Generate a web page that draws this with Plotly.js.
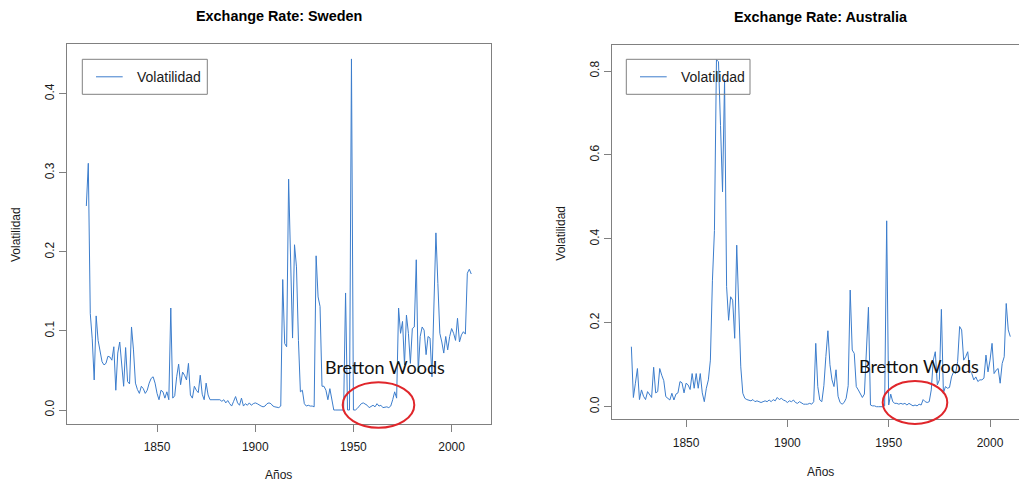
<!DOCTYPE html>
<html>
<head>
<meta charset="utf-8">
<script src="https://cdn.plot.ly/plotly-3.0.1.min.js"></script>
<style>
  html, body { margin: 0; padding: 0; background: #ffffff; }
  #chart { width: 1019px; height: 483px; }
</style>
</head>
<body>
<div id="chart"></div>
<script>
// Annual exchange-rate volatility, one value per year from the start year on.
const swedenStart = 1814;
const swedenVol = [
  0.258, 0.312, 0.122, 0.090, 0.038, 0.119, 0.088, 0.076, 0.061, 0.057,
  0.059, 0.068, 0.067, 0.063, 0.080, 0.025, 0.072, 0.086, 0.055, 0.030,
  0.079, 0.036, 0.033, 0.105, 0.076, 0.034, 0.026, 0.021, 0.030, 0.027,
  0.021, 0.025, 0.034, 0.040, 0.042, 0.034, 0.021, 0.013, 0.025, 0.023,
  0.015, 0.023, 0.013, 0.129, 0.015, 0.018, 0.042, 0.058, 0.032, 0.048,
  0.044, 0.038, 0.059, 0.019, 0.015, 0.030, 0.025, 0.022, 0.044, 0.020,
  0.013, 0.034, 0.019, 0.013, 0.013, 0.013, 0.013, 0.013, 0.013, 0.011,
  0.013, 0.009, 0.012, 0.008, 0.005, 0.011, 0.017, 0.009, 0.006, 0.015,
  0.005, 0.008, 0.006, 0.009, 0.006, 0.008, 0.009, 0.008, 0.006, 0.005,
  0.004, 0.005, 0.008, 0.009, 0.008, 0.005, 0.004, 0.003, 0.003, 0.005,
  0.165, 0.084, 0.080, 0.292, 0.190, 0.091, 0.209, 0.181, 0.088, 0.023,
  0.025, 0.008, 0.005, 0.006, 0.005, 0.005, 0.004, 0.195, 0.143, 0.131,
  0.030, 0.030, 0.025, 0.013, 0.027, 0.011, 0.000, 0.000, 0.000, 0.000,
  0.000, 0.000, 0.148, 0.000, 0.000, 0.444, 0.000, 0.000, 0.002, 0.005,
  0.008, 0.009, 0.008, 0.006, 0.003, 0.005, 0.006, 0.004, 0.008, 0.005,
  0.006, 0.003, 0.004, 0.004, 0.003, 0.005, 0.013, 0.023, 0.015, 0.129,
  0.097, 0.112, 0.057, 0.120, 0.097, 0.059, 0.103, 0.105, 0.190, 0.048,
  0.093, 0.105, 0.101, 0.070, 0.093, 0.091, 0.042, 0.143, 0.224, 0.160,
  0.097, 0.086, 0.072, 0.093, 0.076, 0.093, 0.103, 0.097, 0.088, 0.116,
  0.086, 0.095, 0.099, 0.096, 0.173, 0.178, 0.172
];

const australiaStart = 1823;
const australiaVol = [
  0.143, 0.022, 0.056, 0.091, 0.017, 0.040, 0.025, 0.017, 0.036, 0.028,
  0.022, 0.094, 0.033, 0.036, 0.091, 0.075, 0.062, 0.024, 0.020, 0.016,
  0.032, 0.016, 0.030, 0.033, 0.060, 0.057, 0.033, 0.056, 0.052, 0.041,
  0.079, 0.044, 0.079, 0.044, 0.079, 0.033, 0.012, 0.044, 0.064, 0.111,
  0.300, 0.420, 0.827, 0.822, 0.670, 0.512, 0.780, 0.286, 0.206, 0.262,
  0.254, 0.163, 0.385, 0.238, 0.095, 0.032, 0.020, 0.017, 0.016, 0.014,
  0.017, 0.012, 0.014, 0.012, 0.010, 0.012, 0.014, 0.012, 0.016, 0.012,
  0.017, 0.014, 0.022, 0.017, 0.020, 0.016, 0.014, 0.010, 0.014, 0.012,
  0.016, 0.010, 0.008, 0.012, 0.008, 0.006, 0.006, 0.006, 0.008, 0.006,
  0.012, 0.151, 0.048, 0.016, 0.012, 0.050, 0.120, 0.181, 0.100, 0.064,
  0.048, 0.088, 0.025, 0.010, 0.006, 0.010, 0.020, 0.050, 0.278, 0.135,
  0.127, 0.048, 0.040, 0.032, 0.022, 0.030, 0.120, 0.237, 0.004, 0.002,
  0.002, 0.000, 0.000, 0.000, 0.000, 0.002, 0.443, 0.004, 0.030, 0.012,
  0.008, 0.008, 0.006, 0.008, 0.006, 0.008, 0.004, 0.008, 0.004, 0.002,
  0.004, 0.002, 0.006, 0.004, 0.017, 0.012, 0.010, 0.012, 0.040, 0.111,
  0.131, 0.052, 0.064, 0.232, 0.032, 0.048, 0.044, 0.046, 0.071, 0.083,
  0.079, 0.107, 0.191, 0.183, 0.111, 0.119, 0.131, 0.087, 0.079, 0.064,
  0.071, 0.060, 0.064, 0.064, 0.068, 0.123, 0.083, 0.111, 0.151, 0.079,
  0.087, 0.091, 0.056, 0.103, 0.119, 0.246, 0.183, 0.167
];

const xTicks = [1850, 1900, 1950, 2000];
const swedenYTicks = [0, 0.1, 0.2, 0.3, 0.4];
const australiaYTicks = [0, 0.2, 0.4, 0.6, 0.8];

const panelTitles = ['Exchange Rate: Sweden', 'Exchange Rate: Australia'];
const seriesName = 'Volatilidad';
const xLabel = 'Años';
const yLabel = 'Volatilidad';
const noteText = 'Bretton Woods';

const years = (start, vals) => vals.map((_, i) => start + i);

// Page geometry helpers: pixel position -> paper fraction
const W = 1019, H = 483;
const fx = p => p / W;
const fy = p => 1 - p / H;

const FONT = '"Liberation Sans", Arial, Helvetica, sans-serif';
const LINE = '#3c7dcc';
const AXIS = '#808080';
const TEXT = '#1a1a1a';
const RED = '#e0262b';

const baseAxis = {
  showline: true, linecolor: AXIS, linewidth: 1,
  ticks: 'outside', ticklen: 7, tickwidth: 1, tickcolor: AXIS,
  showgrid: false, zeroline: false, automargin: false, fixedrange: true,
  tickfont: { family: FONT, size: 12, color: TEXT }
};

const traces = [
  {
    x: years(swedenStart, swedenVol), y: swedenVol,
    type: 'scatter', mode: 'lines', name: seriesName,
    line: { color: LINE, width: 1 },
    xaxis: 'x', yaxis: 'y'
  },
  {
    x: years(australiaStart, australiaVol), y: australiaVol,
    type: 'scatter', mode: 'lines', name: seriesName,
    line: { color: LINE, width: 1 },
    xaxis: 'x2', yaxis: 'y2'
  }
];

// Boxed key in the top-left corner of a panel: frame, line sample and label.
function keyBox(left, right, top, bottom, lineX0, lineX1, textX) {
  const mid = (top + bottom) / 2;
  return {
    shapes: [
      { type: 'rect', xref: 'paper', yref: 'paper',
        x0: fx(left), x1: fx(right), y0: fy(bottom), y1: fy(top),
        line: { color: AXIS, width: 1 }, fillcolor: 'rgba(0,0,0,0)' },
      { type: 'line', xref: 'paper', yref: 'paper',
        x0: fx(lineX0), x1: fx(lineX1), y0: fy(mid), y1: fy(mid),
        line: { color: LINE, width: 1 } }
    ],
    annotation: { text: seriesName, x: fx(textX), y: fy(mid), xref: 'paper', yref: 'paper',
      xanchor: 'left', yanchor: 'middle', showarrow: false,
      font: { family: FONT, size: 14, color: TEXT } }
  };
}
const keyLeft = keyBox(82.3, 207.3, 59.3, 94.3, 96, 122.7, 135);
const keyRight = keyBox(626.3, 750, 59.3, 94.3, 640, 666.7, 678.5);

const annotations = [
  { text: '<b>' + panelTitles[0] + '</b>', x: fx(278.7), y: fy(16), xref: 'paper', yref: 'paper',
    xanchor: 'center', yanchor: 'middle', showarrow: false, font: { family: FONT, size: 14.4, color: '#000' } },
  { text: '<b>' + panelTitles[1] + '</b>', x: fx(820.7), y: fy(16.7), xref: 'paper', yref: 'paper',
    xanchor: 'center', yanchor: 'middle', showarrow: false, font: { family: FONT, size: 14.4, color: '#000' } },
  { text: xLabel, x: fx(278.7), y: fy(475), xref: 'paper', yref: 'paper',
    xanchor: 'center', yanchor: 'middle', showarrow: false, font: { family: FONT, size: 12, color: TEXT } },
  { text: xLabel, x: fx(820), y: fy(471.7), xref: 'paper', yref: 'paper',
    xanchor: 'center', yanchor: 'middle', showarrow: false, font: { family: FONT, size: 12, color: TEXT } },
  { text: yLabel, x: fx(16), y: fy(234), xref: 'paper', yref: 'paper', textangle: -90,
    xanchor: 'center', yanchor: 'middle', showarrow: false, font: { family: FONT, size: 12, color: TEXT } },
  { text: yLabel, x: fx(560.7), y: fy(233), xref: 'paper', yref: 'paper', textangle: -90,
    xanchor: 'center', yanchor: 'middle', showarrow: false, font: { family: FONT, size: 12, color: TEXT } },
  { text: noteText, x: fx(384.5), y: fy(366.7), xref: 'paper', yref: 'paper',
    xanchor: 'center', yanchor: 'middle', showarrow: false, font: { family: 'Lato, "Open Sans", sans-serif', size: 18, color: '#111' } },
  { text: noteText, x: fx(919), y: fy(366), xref: 'paper', yref: 'paper',
    xanchor: 'center', yanchor: 'middle', showarrow: false, font: { family: 'Lato, "Open Sans", sans-serif', size: 18, color: '#111' } },
  keyLeft.annotation, keyRight.annotation
];

const shapes = [
  { type: 'circle', xref: 'paper', yref: 'paper',
    x0: fx(342.7), x1: fx(414.3), y0: fy(427.7), y1: fy(382.3),
    line: { color: RED, width: 2 } },
  { type: 'circle', xref: 'paper', yref: 'paper',
    x0: fx(882.7), x1: fx(947.3), y0: fy(424), y1: fy(381),
    line: { color: RED, width: 2 } }
].concat(keyLeft.shapes, keyRight.shapes);

const layout = {
  width: W, height: H,
  margin: { l: 0, r: 0, t: 0, b: 0 },
  paper_bgcolor: '#ffffff', plot_bgcolor: '#ffffff',
  showlegend: false,
  xaxis: Object.assign({}, baseAxis, {
    domain: [fx(66.7), fx(490.7)], range: [1804.0, 2019.9],
    tickvals: xTicks, mirror: true, anchor: 'y', ticklabelstandoff: 5
  }),
  yaxis: Object.assign({}, baseAxis, {
    domain: [fy(424), fy(44.3)], range: [-0.0177, 0.4625],
    tickvals: swedenYTicks, tickformat: '.1f', tickangle: -90, mirror: true, anchor: 'x'
  }),
  xaxis2: Object.assign({}, baseAxis, {
    domain: [fx(611.7), 1], range: [1813.3, 2014.3],
    tickvals: xTicks, mirror: true, anchor: 'y2', ticklabelstandoff: 5
  }),
  yaxis2: Object.assign({}, baseAxis, {
    domain: [fy(419.3), fy(45)], range: [-0.030, 0.862],
    tickvals: australiaYTicks, tickformat: '.1f', tickangle: -90, mirror: false, anchor: 'x2'
  }),
  annotations: annotations,
  shapes: shapes
};

Plotly.newPlot('chart', traces, layout, { displayModeBar: false, staticPlot: true });
</script>
</body>
</html>
